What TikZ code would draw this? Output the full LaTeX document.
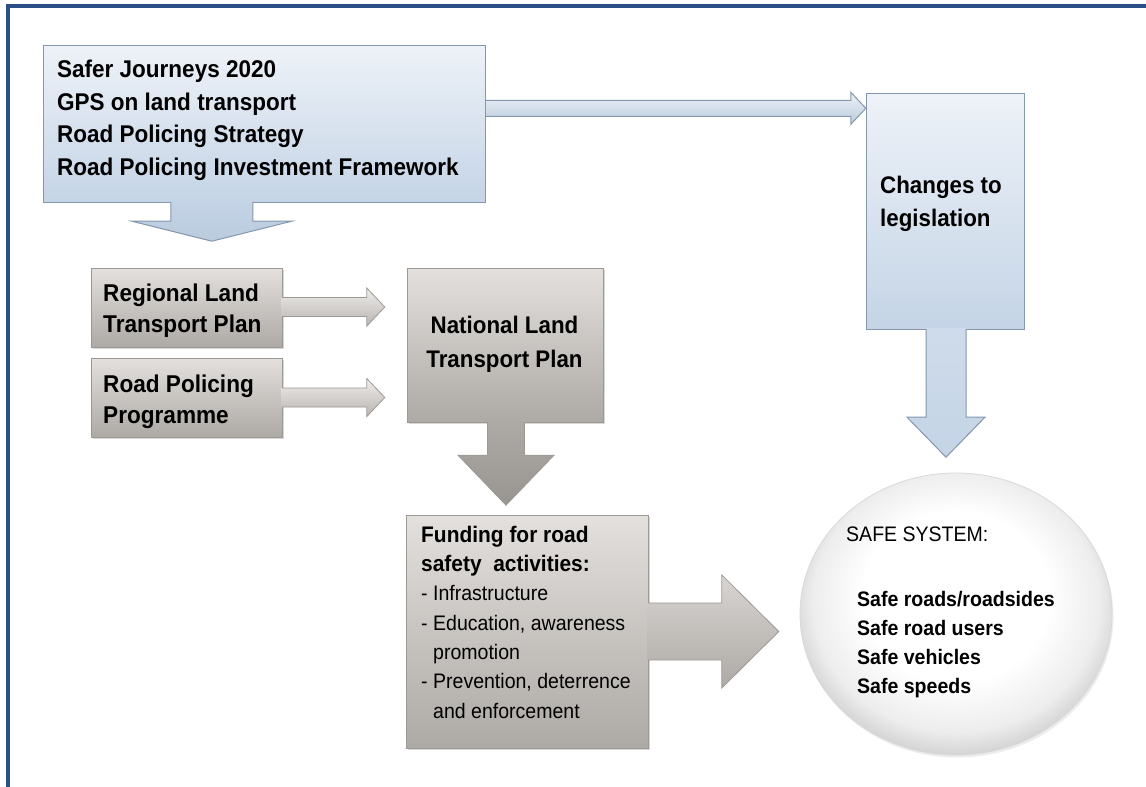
\documentclass[tikz,border=0pt]{standalone}
\usepackage{fontspec}
\setmainfont{Liberation Sans}[FakeStretch=0.93]
\usetikzlibrary{calc,shadows,shapes.geometric}
\definecolor{frameblue}{HTML}{2B5088}
\definecolor{blueTop}{HTML}{EEF2F8}
\definecolor{blueBot}{HTML}{C4D4E6}
\definecolor{blueLine}{HTML}{8497AD}
\definecolor{grayTop}{HTML}{E3E0DD}
\definecolor{grayBot}{HTML}{ADA9A5}
\definecolor{grayLine}{HTML}{9C9894}
\definecolor{arrTop}{HTML}{EEECEA}
\definecolor{arrBot}{HTML}{B9B5B1}
\pgfdeclareradialshading{safeshade}{\pgfpoint{0bp}{5bp}}{%
  color(0bp)=(white); color(15bp)=(white); color(23bp)=(black!7);
  color(27bp)=(black!18); color(29.5bp)=(black!38); color(40bp)=(black!40)}
\tikzset{
  bluebox/.style={draw=blueLine, line width=1pt, top color=blueTop, bottom color=blueBot, inner sep=0pt},
  graybox/.style={draw=grayLine, line width=0.8pt, top color=grayTop, bottom color=grayBot, inner sep=0pt,
     drop shadow={opacity=0.3, shadow xshift=1.5pt, shadow yshift=-2pt}},
  lbl/.style={inner sep=0pt, anchor=base west, align=left, text=black},
  blueedge/.style={draw=blueLine, line width=1pt, line join=miter},
  grayedge/.style={draw=grayLine, line width=0.8pt, line join=miter},
}
\newcommand\blockright[6]{% #1 start, #2 tip, #3 shaft half, #4 head half, #5 head length, #6 fill style
  \path[#6] ($(#1)+(-1,-#3)$) -- ($(#2)+(-#5,-#3)$) -- ($(#2)+(-#5,-#4)$) -- (#2)
     -- ($(#2)+(-#5,#4)$) -- ($(#2)+(-#5,#3)$) -- ($(#1)+(-1,#3)$) -- cycle;}
\newcommand\edgeright[6]{%
  \draw[#6] ($(#1)+(0,-#3)$) -- ($(#2)+(-#5,-#3)$) -- ($(#2)+(-#5,-#4)$) -- (#2)
     -- ($(#2)+(-#5,#4)$) -- ($(#2)+(-#5,#3)$) -- ($(#1)+(0,#3)$);}
\newcommand\blockdown[6]{% #1 start, #2 tip, #3 shaft half, #4 head half, #5 head length, #6 fill style
  \path[#6] ($(#1)+(-#3,-1)$) -- ($(#2)+(-#3,-#5)$) -- ($(#2)+(-#4,-#5)$) -- (#2)
     -- ($(#2)+(#4,-#5)$) -- ($(#2)+(#3,-#5)$) -- ($(#1)+(#3,-1)$) -- cycle;}
\newcommand\edgedown[6]{%
  \draw[#6] ($(#1)+(-#3,0)$) -- ($(#2)+(-#3,-#5)$) -- ($(#2)+(-#4,-#5)$) -- (#2)
     -- ($(#2)+(#4,-#5)$) -- ($(#2)+(#3,-#5)$) -- ($(#1)+(#3,0)$);}
\begin{document}
\begin{tikzpicture}[x=1pt,y=-1pt]
\useasboundingbox (0,0) rectangle (1146,787);
\fill[white] (0,0) rectangle (1146,787);
% frame
\fill[frameblue] (6,3.5) rectangle (1146,7.5);
\fill[frameblue] (6,3.5) rectangle (10,787);

\coordinate (srcC) at (264,123.5);
\coordinate (chgC) at (945,211);
\coordinate (regC) at (186.5,307.5);
\coordinate (rpC) at (186.5,397.5);
\coordinate (nlC) at (505,345);
\coordinate (fdC) at (527,631.5);

\node[minimum width=442pt, minimum height=157pt, inner sep=0pt] (srcbox) at (srcC) {};
\node[minimum width=158pt, minimum height=236pt, inner sep=0pt] (chgbox) at (chgC) {};
\node[minimum width=196pt, minimum height=154pt, inner sep=0pt] (nlbox) at (nlC) {};
\node[ellipse, minimum width=312pt, minimum height=282pt, inner sep=0pt] (safe) at (956,614) {};
\coordinate (h1) at ($(srcbox.north east)+(0,63.5)$);
\coordinate (h1t) at (chgbox.west |- h1);
\blockright{h1}{h1t}{8}{16}{15}{top color=blueTop, bottom color=blueBot!85!blueLine}
\edgeright{h1}{h1t}{8}{16}{15}{blueedge}

% boxes
\node[bluebox, minimum width=442pt, minimum height=157pt] at (srcbox) {};
\node[bluebox, minimum width=158pt, minimum height=236pt] at (chgbox) {};
\node[graybox, minimum width=191pt, minimum height=79pt] (regbox) at (regC) {};
\node[graybox, minimum width=191pt, minimum height=79pt] (rpbox) at (rpC) {};
\node[graybox, minimum width=196pt, minimum height=154pt] at (nlbox) {};
\node[graybox, minimum width=242pt, minimum height=233pt] (fdbox) at (fdC) {};
\path[shade, shading=safeshade,
      drop shadow={opacity=0.15, shadow xshift=1.5pt, shadow yshift=-2.5pt}]
      (safe.center) ellipse [x radius=156pt, y radius=141pt];
\draw[black!15, line width=0.8pt] (safe.center) ellipse [x radius=156pt, y radius=141pt];

\coordinate (r1) at ($(regbox.east)+(0,-0.5)$);
\coordinate (r1t) at ($(nlbox.west |- r1)+(-22,0)$);
\blockright{r1}{r1t}{9.5}{19}{18}{top color=arrTop, bottom color=arrBot}
\edgeright{r1}{r1t}{9.5}{19}{18}{grayedge}
\coordinate (r2) at (rpbox.east);
\coordinate (r2t) at ($(nlbox.west |- r2)+(-22,0)$);
\blockright{r2}{r2t}{9.5}{19}{18}{top color=arrTop, bottom color=arrBot}
\edgeright{r2}{r2t}{9.5}{19}{18}{grayedge}

\coordinate (d1) at ($(srcbox.south west)+(169,0)$);
\coordinate (d1t) at ($(d1)+(0,39)$);
\blockdown{d1}{d1t}{41}{80}{20}{top color=blueBot, bottom color=blueBot!85!blueLine}
\edgedown{d1}{d1t}{41}{80}{20}{blueedge}

\coordinate (d2) at ($(nlbox.south)+(1,0)$);
\coordinate (d2t) at ($(d2)+(0,83)$);
\blockdown{d2}{d2t}{18.5}{48}{50}{top color=grayBot, bottom color=grayBot!88!black}
\edgedown{d2}{d2t}{18.5}{48}{50}{grayedge}

\coordinate (d3) at ($(chgbox.south)+(1,0)$);
\coordinate (d3t) at ($(d3)+(0,128)$);
\blockdown{d3}{d3t}{20}{39}{40}{top color=blueBot!75!blueTop, bottom color=blueBot}
\edgedown{d3}{d3t}{20}{39}{40}{blueedge}

\coordinate (f1) at (fdbox.east);
\coordinate (f1t) at ($(safe.west |- f1)+(-21,0)$);
\blockright{f1}{f1t}{28.5}{56.5}{57}{top color=grayTop!80!grayBot, bottom color=grayBot}
\edgeright{f1}{f1t}{28.5}{56.5}{57}{grayedge}

% texts (anchor = baseline of the last line)
\node[lbl, font=\fontsize{24.2}{32.5}\selectfont\bfseries] (src) at (57,175)
  {Safer Journeys 2020\\GPS on land transport\\Road Policing Strategy\\Road Policing Investment Framework};
\node[lbl, font=\fontsize{24}{33}\selectfont\bfseries] (chg) at (880,226) {Changes to\\legislation};
\node[lbl, font=\fontsize{24.3}{31}\selectfont\bfseries] (reg) at (103,332) {Regional Land\\Transport Plan};
\node[lbl, font=\fontsize{24.3}{31}\selectfont\bfseries] (rp) at (103,423) {Road Policing\\Programme};
\node[lbl, anchor=base, align=center, font=\fontsize{24}{34}\selectfont\bfseries] (nl) at (504.5,367) {National Land\\Transport Plan};
\node[lbl, font=\fontsize{21}{29.3}\selectfont] (fd) at (421,718)
  {\fontsize{22.5}{29.3}\selectfont\bfseries Funding for road\\
   \fontsize{22.5}{29.3}\selectfont\bfseries safety\ \ activities:\\
   - Infrastructure\\- Education, awareness\\\hspace*{12pt}promotion\\- Prevention, deterrence\\\hspace*{12pt}and enforcement};
\node[lbl, font=\fontsize{21}{29}\selectfont] (sshead) at (846,541) {SAFE SYSTEM:};
\node[lbl, font=\fontsize{21}{28.7}\selectfont\bfseries] (sslist) at (857,693)
  {Safe roads/roadsides\\Safe road users\\Safe vehicles\\Safe speeds};
\end{tikzpicture}
\end{document}
